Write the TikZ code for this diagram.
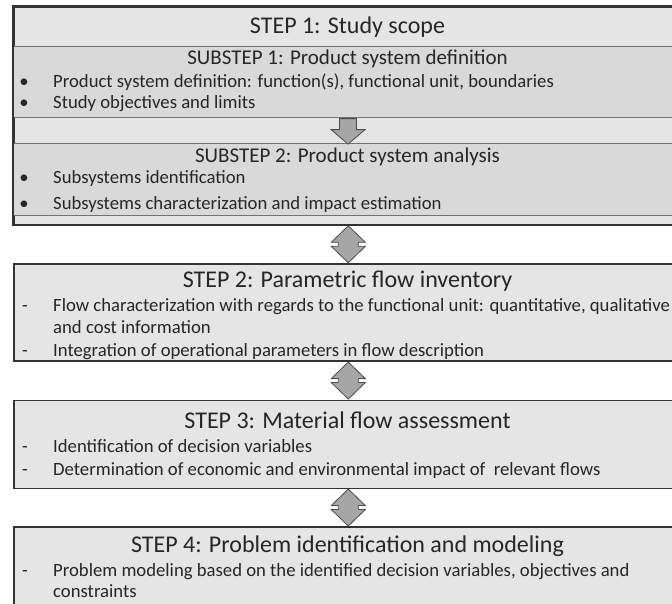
\documentclass[tikz,border=0pt]{standalone}
\usepackage{fontspec}
\setmainfont{Carlito}
\usetikzlibrary{calc}

\tikzset{
  outerbox/.style={draw=black!80,line width=1.6pt,fill=gray!20,anchor=north west,
    inner sep=0pt,minimum width=669pt},
  subbox/.style={draw=black!55,line width=1.1pt,fill=gray!30,anchor=north west,
    inner sep=0pt,minimum width=669pt},
  steptitle/.style={anchor=base,inner sep=0pt,text=black!85,font=\fontsize{24}{28}\selectfont},
  subtitle/.style={anchor=base,inner sep=0pt,text=black!85,font=\fontsize{21}{25}\selectfont},
  itemtext/.style={anchor=base west,inner sep=0pt,text=black!85,font=\fontsize{18.7}{22}\selectfont},
  itemmark/.style={anchor=base,inner sep=0pt,text=black!85,font=\fontsize{18.7}{22}\selectfont},
  blockarrow/.style={draw=black!70,line width=0.8pt,fill=gray!70,line join=miter},
}

\begin{document}
\begin{tikzpicture}[x=1pt,y=-1pt]
  \useasboundingbox (0,0) rectangle (672,603);
  \begin{scope}
  \clip (0,0) rectangle (672,603);
  % STEP 1 with its two substeps
  \node[outerbox,minimum height=218pt] (s1) at (13,6) {};
  \node[subbox,minimum height=71pt] (sb1) at (13,46) {};
  \node[subbox,minimum height=72pt] (sb2) at (13,143) {};
  \draw[black!80,line width=1.6pt] (s1.north west) rectangle (s1.south east);
  \node[steptitle] (t1) at (347.5,33) {STEP 1: Study scope};
  \node[subtitle] (t11) at (347.5,64.5) {SUBSTEP 1: Product system definition};
  \node[itemmark] (m111) at (24,87) {•};
  \node[itemtext] (i111) at (53,87) {Product system definition: function(s), functional unit, boundaries};
  \node[itemmark] (m112) at (24,108) {•};
  \node[itemtext] (i112) at (53,108) {Study objectives and limits};
  \node[subtitle] (t12) at (347.5,162.5) {SUBSTEP 2: Product system analysis};
  \node[itemmark] (m121) at (24,183.5) {•};
  \node[itemtext] (i121) at (53,183.5) {Subsystems identification};
  \node[itemmark] (m122) at (24,209.5) {•};
  \node[itemtext] (i122) at (53,209.5) {Subsystems characterization and impact estimation};
  % STEP 2
  \node[outerbox,minimum height=97pt] (st2) at (13,263) {};
  \node[steptitle] (t2) at (347.5,287) {STEP 2: Parametric flow inventory};
  \node[itemmark] (m21) at (25,311) {-};
  \node[itemtext] (i21) at (53,311) {Flow characterization with regards to the functional unit: quantitative, qualitative};
  \node[itemtext] (i21b) at (53,333.5) {and cost information};
  \node[itemmark] (m22) at (25,356) {-};
  \node[itemtext] (i22) at (53,356) {Integration of operational parameters in flow description};
  % STEP 3
  \node[outerbox,minimum height=88pt] (st3) at (13,399.5) {};
  \node[steptitle] (t3) at (347.5,428.5) {STEP 3: Material flow assessment};
  \node[itemmark] (m31) at (25,452) {-};
  \node[itemtext] (i31) at (53,452) {Identification of decision variables};
  \node[itemmark] (m32) at (25,475) {-};
  \node[itemtext] (i32) at (53,475) {Determination of economic and environmental impact of \ relevant flows};
  % STEP 4
  \node[outerbox,minimum height=100pt] (st4) at (13,526) {};
  \node[steptitle] (t4) at (347.5,552.5) {STEP 4: Problem identification and modeling};
  \node[itemmark] (m41) at (25,576) {-};
  \node[itemtext] (i41) at (53,576) {Problem modeling based on the identified decision variables, objectives and};
  \node[itemtext] (i41b) at (53,597) {constraints};
  % arrows between the boxes
  \draw[blockarrow] (sb1.south) ++(-8.5,0.5) -- ++(0,11) -- ++(-8.5,0) -- ++(17,14.5)
    -- ++(17,-14.5) -- ++(-8.5,0) -- ++(0,-11) -- cycle;
  \foreach \a/\b in {s1/st2,st2/st3,st3/st4}
    \draw[blockarrow] ($(\a.south)!0.5!(\b.north)$) ++(0,-18.5) -- ++(17,16.5) -- ++(-7,0)
      -- ++(0,4) -- ++(7,0) -- ++(-17,16.5) -- ++(-17,-16.5) -- ++(7,0) -- ++(0,-4)
      -- ++(-7,0) -- cycle;
  \end{scope}
\end{tikzpicture}
\end{document}
